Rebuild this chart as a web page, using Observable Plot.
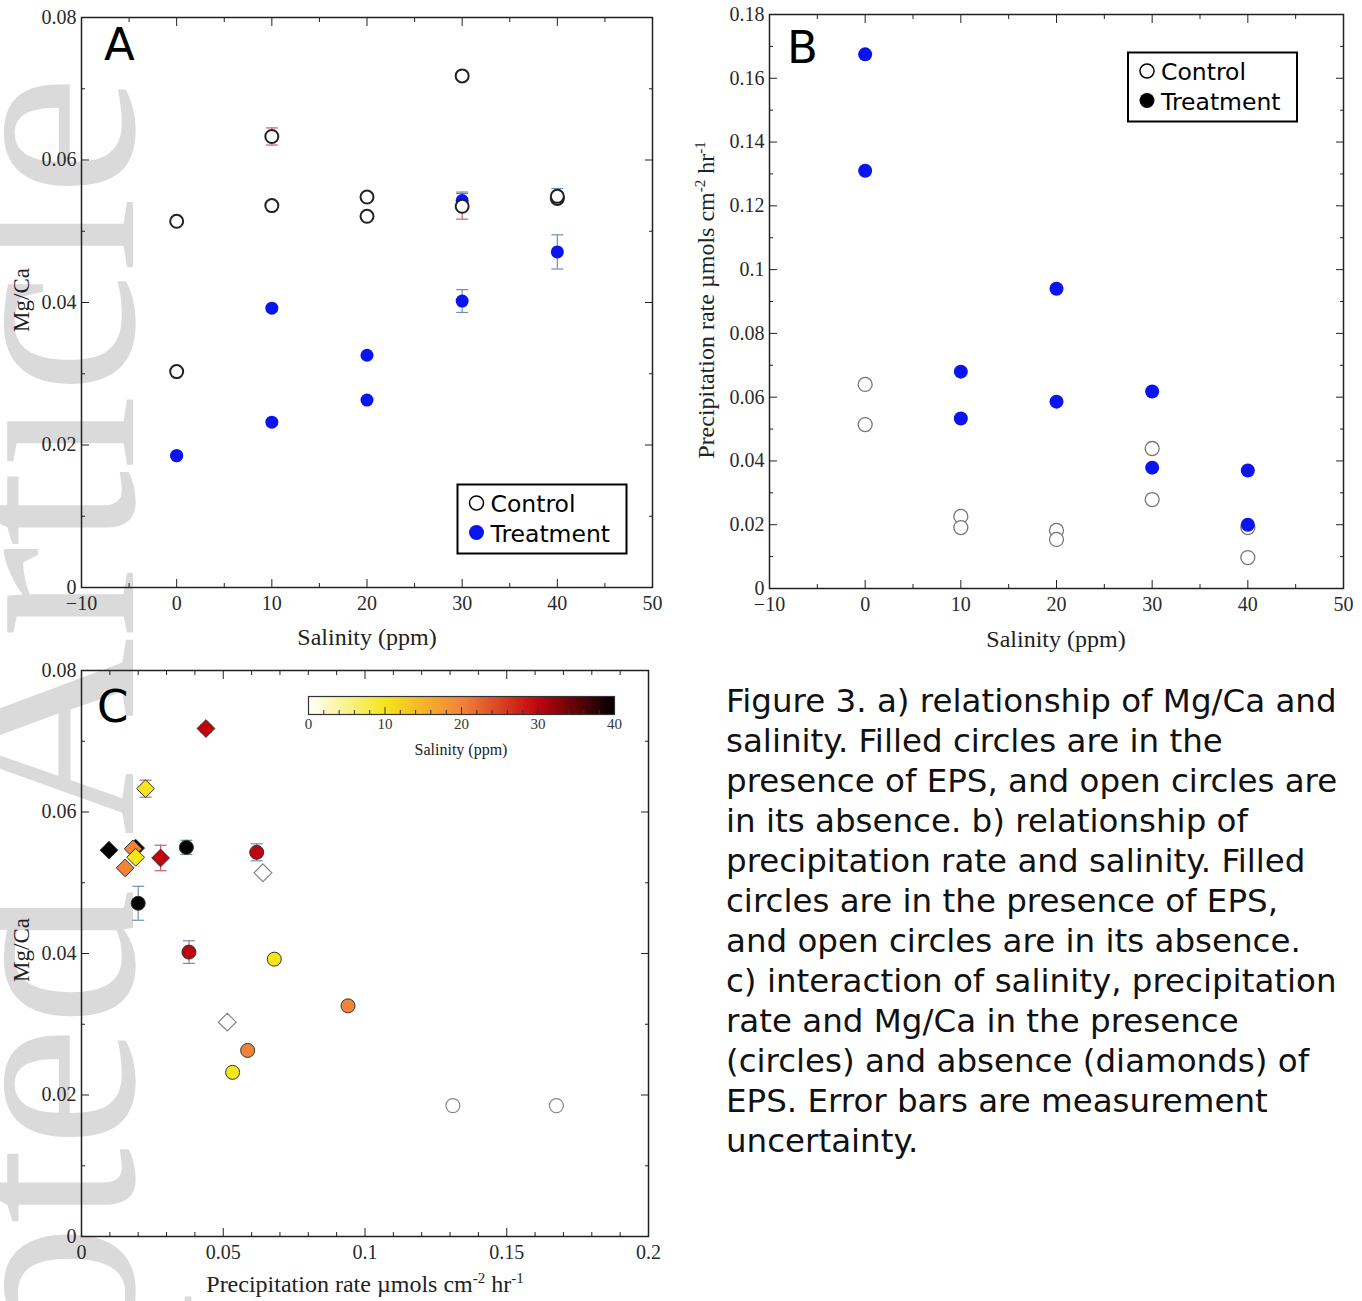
<!DOCTYPE html>
<html>
<head>
<meta charset="utf-8">
<script src="https://cdn.jsdelivr.net/npm/d3@7"></script>
<script src="https://cdn.jsdelivr.net/npm/@observablehq/plot@0.6"></script>
<style>
html, body { margin: 0; padding: 0; background: #fff; }
#page { position: relative; width: 1362px; height: 1301px; overflow: hidden; background: #fff; }
.abs { position: absolute; }
</style>
</head>
<body>
<div id="page"></div>
<script>
// ---------------- DATA ----------------
// two replicates per salinity level
const salinityLevels = [0, 0, 10, 10, 20, 20, 30, 30, 40, 40];

// Control (no EPS): open circles (A, B) / diamonds (C)
const controlMgCa = [0.0514, 0.0303, 0.0633, 0.0536, 0.0548, 0.0521, 0.0718, 0.0535, 0.0546, 0.0549];
const controlRate = [0.0640, 0.0514, 0.0226, 0.0191, 0.0182, 0.0154, 0.0439, 0.0279, 0.0097, 0.0191];
const controlErr  = [0, 0, 0.0012, 0, 0, 0, 0.0005, 0.0018, 0, 0];

// Treatment (EPS): filled circles
const treatmentMgCa = [0.0185, 0.0185, 0.0392, 0.0232, 0.0326, 0.0263, 0.0543, 0.0402, 0.0550, 0.0471];
const treatmentRate = [0.1675, 0.1310, 0.0680, 0.0533, 0.0940, 0.0586, 0.0618, 0.0379, 0.0370, 0.0200];
const treatmentErr  = [0, 0, 0, 0, 0, 0, 0.0012, 0.0016, 0.0010, 0.0024];

// ticks
const salinityTicks = [-10, 0, 10, 20, 30, 40, 50];
const salinityMinor = [-5, 5, 15, 25, 35, 45];
const mgcaTicks = [0, 0.02, 0.04, 0.06, 0.08];
const mgcaMinor = [0.01, 0.03, 0.05, 0.07];
const rateTicksB = [0, 0.02, 0.04, 0.06, 0.08, 0.1, 0.12, 0.14, 0.16, 0.18];
const rateMinorB = [0.01, 0.03, 0.05, 0.07, 0.09, 0.11, 0.13, 0.15, 0.17];
const rateTicksC = [0, 0.05, 0.1, 0.15, 0.2];
const rateMinorC = [0.01, 0.02, 0.03, 0.04, 0.06, 0.07, 0.08, 0.09, 0.11, 0.12, 0.13, 0.14, 0.16, 0.17, 0.18, 0.19];
const colorbarTicks = [0, 10, 20, 30, 40];
const colorbarMajorInner = [10, 20, 30];
const colorbarMinor = [2, 4, 6, 8, 12, 14, 16, 18, 22, 24, 26, 28, 32, 34, 36, 38];

// salinity colour map (panel C)
const salinityColorDomain = [0, 10, 20, 30, 40];
const salinityColorRange = ["#ffffff", "#f6e51a", "#f2843a", "#c0040e", "#000000"];

// caption
const captionLines = [
  "Figure 3. a) relationship of Mg/Ca and",
  "salinity. Filled circles are in the",
  "presence of EPS, and open circles are",
  "in its absence. b) relationship of",
  "precipitation rate and salinity. Filled",
  "circles are in the presence of EPS,",
  "and open circles are in its absence.",
  "c) interaction of salinity, precipitation",
  "rate and Mg/Ca in the presence",
  "(circles) and absence (diamonds) of",
  "EPS. Error bars are measurement",
  "uncertainty."
];

// ---------------- TABLES ----------------
const control = salinityLevels.map((s, i) => ({sal: s, mg: controlMgCa[i], rate: controlRate[i], err: controlErr[i]}));
const treatment = salinityLevels.map((s, i) => ({sal: s, mg: treatmentMgCa[i], rate: treatmentRate[i], err: treatmentErr[i]}));

const CTRL_ERR = "#cf5a6c";
const TRT_ERR = "#6f8fb2";
const BLUE = "#0a14f0";
const SERIF = "'Liberation Serif', 'Times New Roman', serif";
const SANS = "'DejaVu Sans', Verdana, sans-serif";

const fmt = d => d < 0 ? "\u2212" + (-d) : String(d);
const capSymbol = {draw(ctx) { ctx.moveTo(-6, 0); ctx.lineTo(6, 0); }};

function frameAxes(xMajor, xMinor, yMajor, yMinor) {
  const t = {tickFormat: () => "", label: null, stroke: "#222", strokeWidth: 1};
  return [
    Plot.axisX(xMajor, {...t, anchor: "bottom", tickSize: -8}),
    Plot.axisX(xMajor, {...t, anchor: "top", tickSize: -8}),
    Plot.axisX(xMinor, {...t, anchor: "bottom", tickSize: -4}),
    Plot.axisX(xMinor, {...t, anchor: "top", tickSize: -4}),
    Plot.axisY(yMajor, {...t, anchor: "left", tickSize: -8}),
    Plot.axisY(yMajor, {...t, anchor: "right", tickSize: -8}),
    Plot.axisY(yMinor, {...t, anchor: "left", tickSize: -4}),
    Plot.axisY(yMinor, {...t, anchor: "right", tickSize: -4}),
    Plot.axisX(xMajor, {anchor: "bottom", tickSize: 0, tickPadding: 8, tickFormat: fmt, label: null, fontSize: 20, fill: "#2a2a2a"}),
    Plot.axisY(yMajor, {anchor: "left", tickSize: 0, tickPadding: 5, tickFormat: fmt, label: null, fontSize: 20, fill: "#2a2a2a"})
  ];
}

function errorMarks(data, xKey, color) {
  const d = data.filter(r => r.err > 0);
  return [
    Plot.ruleX(d, {x: xKey, y1: r => r.mg - r.err, y2: r => r.mg + r.err, stroke: color, strokeWidth: 1.2}),
    Plot.dot(d, {x: xKey, y: r => r.mg - r.err, symbol: capSymbol, fill: "none", stroke: color, strokeWidth: 1.2}),
    Plot.dot(d, {x: xKey, y: r => r.mg + r.err, symbol: capSymbol, fill: "none", stroke: color, strokeWidth: 1.2})
  ];
}

const baseStyle = {background: "transparent", fontFamily: SERIF, fontSize: "20px", color: "#333", overflow: "visible"};

// ---------------- PANEL A ----------------
const plotA = Plot.plot({
  width: 670, height: 660,
  marginLeft: 81, marginRight: 18, marginTop: 17, marginBottom: 73,
  x: {domain: [-10, 50]},
  y: {domain: [0, 0.08]},
  style: baseStyle,
  marks: [
    ...frameAxes(salinityTicks, salinityMinor, mgcaTicks, mgcaMinor),
    ...errorMarks(treatment, "sal", TRT_ERR),
    ...errorMarks(control, "sal", CTRL_ERR),
    Plot.dot(treatment, {x: "sal", y: "mg", r: 6.5, fill: BLUE}),
    Plot.dot(control, {x: "sal", y: "mg", r: 6.5, fill: "white", stroke: "#222", strokeWidth: 2}),
    Plot.frame({stroke: "#222", strokeWidth: 1.5})
  ]
});

// ---------------- PANEL B ----------------
const plotB = Plot.plot({
  width: 672, height: 660,
  marginLeft: 79, marginRight: 19, marginTop: 14, marginBottom: 72,
  x: {domain: [-10, 50]},
  y: {domain: [0, 0.18]},
  style: baseStyle,
  marks: [
    ...frameAxes(salinityTicks, salinityMinor, rateTicksB, rateMinorB),
    Plot.dot(control, {x: "sal", y: "rate", r: 7, fill: "white", stroke: "#777", strokeWidth: 1.3}),
    Plot.dot(treatment, {x: "sal", y: "rate", r: 7, fill: BLUE}),
    Plot.frame({stroke: "#222", strokeWidth: 1.5})
  ]
});

// ---------------- PANEL C ----------------
const colorOpts = {type: "linear", domain: salinityColorDomain, range: salinityColorRange};
const ctrlSorted = d3.sort(control, d => -d.sal);
const trtSorted = d3.sort(treatment, d => -d.sal);
const plotC = Plot.plot({
  width: 670, height: 641,
  marginLeft: 81, marginRight: 22, marginTop: 10, marginBottom: 65,
  x: {domain: [0, 0.2]},
  y: {domain: [0, 0.08]},
  color: colorOpts,
  style: baseStyle,
  marks: [
    ...frameAxes(rateTicksC, rateMinorC, mgcaTicks, mgcaMinor),
    ...errorMarks(control, "rate", CTRL_ERR),
    ...errorMarks(treatment, "rate", TRT_ERR),
    Plot.dot(ctrlSorted.filter(d => d.sal > 0), {x: "rate", y: "mg", symbol: "diamond2", r: 8, fill: "sal", stroke: "#333", strokeWidth: 1}),
    Plot.dot(ctrlSorted.filter(d => d.sal === 0), {x: "rate", y: "mg", symbol: "diamond2", r: 8, fill: "sal", stroke: "#8a8290", strokeWidth: 1.2}),
    Plot.dot(trtSorted.filter(d => d.sal > 0), {x: "rate", y: "mg", r: 7, fill: "sal", stroke: "#333", strokeWidth: 1}),
    Plot.dot(trtSorted.filter(d => d.sal === 0), {x: "rate", y: "mg", r: 7, fill: "sal", stroke: "#888", strokeWidth: 1.2}),
    Plot.frame({stroke: "#222", strokeWidth: 1.5})
  ]
});

// colour bar for panel C
const colorbar = Plot.plot({
  width: 346, height: 48,
  marginLeft: 20, marginRight: 20, marginTop: 2, marginBottom: 28,
  x: {domain: [0, 40]},
  y: {domain: [0, 1], axis: null},
  color: colorOpts,
  style: {...baseStyle, fontSize: "15px"},
  marks: [
    Plot.raster({x1: 0, x2: 40, y1: 0, y2: 1, fill: (x, y) => x, pixelSize: 1}),
    Plot.axisX(colorbarMinor, {anchor: "bottom", tickSize: -4, tickFormat: () => "", label: null, stroke: "#333"}),
    Plot.axisX(colorbarMajorInner, {anchor: "bottom", tickSize: -7, tickFormat: () => "", label: null, stroke: "#333"}),
    Plot.axisX(colorbarTicks, {anchor: "bottom", tickSize: 0, tickPadding: 4, tickFormat: String, label: null, fontSize: 15, fill: "#333"}),
    Plot.frame({stroke: "#333", strokeWidth: 1.2})
  ]
});

// ---------------- PAGE ASSEMBLY ----------------
const page = d3.select("#page");

// watermark (behind everything)
const wm = page.append("svg").attr("class", "abs").style("left", "0px").style("top", "0px")
  .attr("width", 1362).attr("height", 1301);
wm.append("text")
  .attr("transform", "translate(133,75) rotate(-90)")
  .attr("text-anchor", "end")
  .attr("font-family", SERIF)
  .attr("font-size", 274)
  .attr("fill", "#dadada")
  .text("Accepted Article");

function place(node, left, top) {
  const div = page.append("div").attr("class", "abs").style("left", left + "px").style("top", top + "px");
  div.node().appendChild(node);
}
place(plotA, 0, 0);
place(plotB, 690, 0);
place(plotC, 0, 660);
place(colorbar, 288, 694);

// overlay for titles, legends, caption
const ov = page.append("svg").attr("class", "abs").style("left", "0px").style("top", "0px")
  .style("pointer-events", "none")
  .attr("width", 1362).attr("height", 1301);

function serifText(x, y, str, size, anchor = "middle", rotate = false) {
  const t = ov.append("text")
    .attr("font-family", SERIF).attr("font-size", size).attr("fill", "#222")
    .attr("text-anchor", anchor);
  if (rotate) t.attr("transform", `translate(${x},${y}) rotate(-90)`);
  else t.attr("x", x).attr("y", y);
  t.text(str);
  return t;
}
function rateTitle(x, y, rotate) {
  const t = ov.append("text")
    .attr("font-family", SERIF).attr("font-size", 24).attr("fill", "#222")
    .attr("text-anchor", "middle");
  if (rotate) t.attr("transform", `translate(${x},${y}) rotate(-90)`);
  else t.attr("x", x).attr("y", y);
  t.append("tspan").text("Precipitation rate \u00b5mols cm");
  t.append("tspan").attr("font-size", 15).attr("dy", -9).text("-2");
  t.append("tspan").attr("dy", 9).text(" hr");
  t.append("tspan").attr("font-size", 15).attr("dy", -9).text("-1");
}

// axis titles
serifText(367, 645, "Salinity (ppm)", 24);
serifText(29, 300, "Mg/Ca", 23, "middle", true);
serifText(1056, 647, "Salinity (ppm)", 24);
rateTitle(714, 300, true);
rateTitle(365, 1292, false);
serifText(29, 950, "Mg/Ca", 23, "middle", true);
serifText(461, 755, "Salinity (ppm)", 16);

// panel letters
function letter(x, y, s) {
  ov.append("text").attr("x", x).attr("y", y).attr("font-family", SANS)
    .attr("font-size", 45).attr("fill", "#000").text(s);
}
letter(104, 60, "A");
letter(787, 63, "B");
letter(97, 722, "C");

// legends
function legend(x, y, treatColor) {
  ov.append("rect").attr("x", x).attr("y", y).attr("width", 169).attr("height", 69)
    .attr("fill", "white").attr("stroke", "#000").attr("stroke-width", 2);
  ov.append("circle").attr("cx", x + 19).attr("cy", y + 18.5).attr("r", 7)
    .attr("fill", "white").attr("stroke", "#000").attr("stroke-width", 1.5);
  ov.append("circle").attr("cx", x + 19).attr("cy", y + 48).attr("r", 7.5).attr("fill", treatColor);
  ov.append("text").attr("x", x + 33).attr("y", y + 27).attr("font-family", SANS)
    .attr("font-size", 23.5).attr("fill", "#000").text("Control");
  ov.append("text").attr("x", x + 33).attr("y", y + 57).attr("font-family", SANS)
    .attr("font-size", 23.5).attr("fill", "#000").text("Treatment");
}
legend(457.5, 484.5, BLUE);
legend(1128, 52.5, "#000");

// caption
const cap = ov.append("text").attr("font-family", SANS).attr("font-size", 32.5).attr("fill", "#111");
captionLines.forEach((line, i) => {
  cap.append("tspan").attr("x", 726).attr("y", 712 + 40 * i).text(line);
});
</script>
</body>
</html>
